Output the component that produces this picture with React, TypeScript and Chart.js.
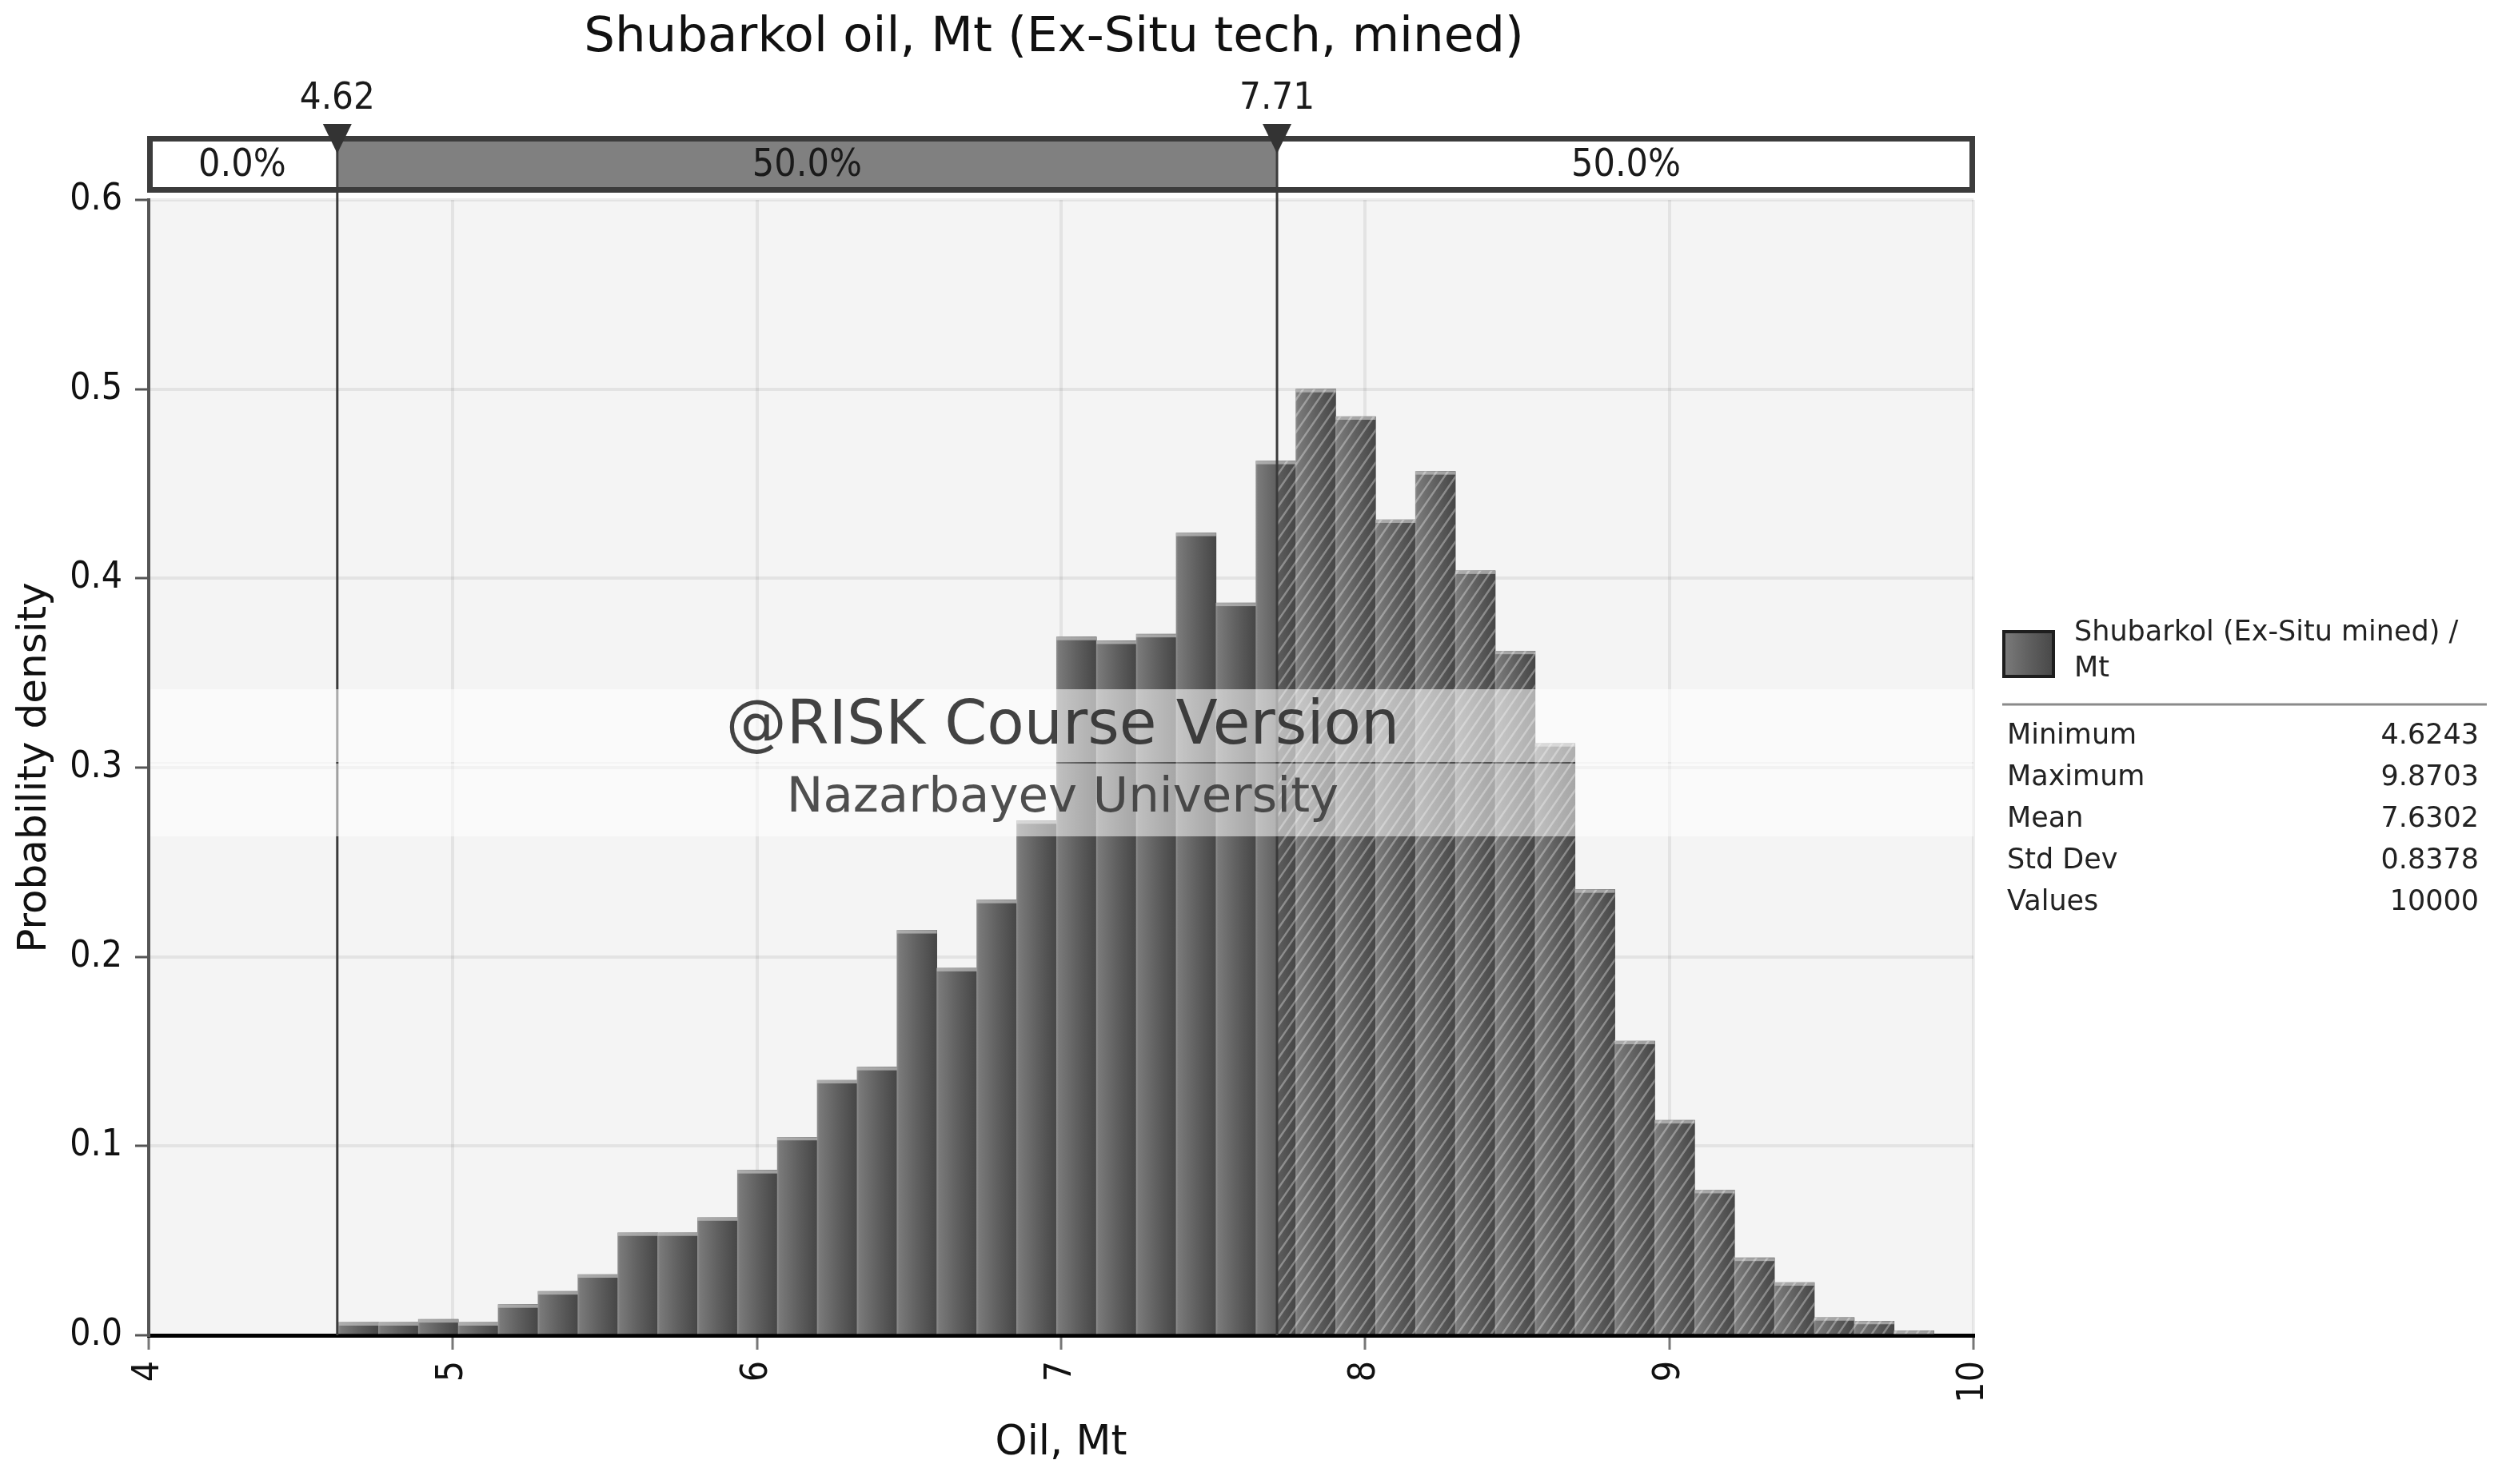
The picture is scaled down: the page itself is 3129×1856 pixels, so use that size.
import React, { useEffect, useRef } from 'react';
import { Chart, registerables } from 'chart.js';

Chart.register(...registerables);

const FONT = '"DejaVu Sans Condensed", "DejaVu Sans", sans-serif';
const FONT_REG = '"DejaVu Sans", Verdana, sans-serif';

const titleText = 'Shubarkol oil, Mt (Ex-Situ tech, mined)';
const xAxisTitle = 'Oil, Mt';
const yAxisTitle = 'Probability density';

// histogram: 40 equal bins between the simulated minimum and maximum
const binMin = 4.6243;
const binMax = 9.8703;
const density = [
  0.0068, 0.0068, 0.0084, 0.0068, 0.0162, 0.0232, 0.0321, 0.0542, 0.0542, 0.0622,
  0.0872, 0.1047, 0.1348, 0.1417, 0.214, 0.194, 0.23, 0.272, 0.369, 0.367,
  0.3705, 0.424, 0.387, 0.462, 0.5, 0.4855, 0.431, 0.4565, 0.404, 0.3616,
  0.3128, 0.2355, 0.1555, 0.1136, 0.0767, 0.0409, 0.0279, 0.0094, 0.0075, 0.0024,
];

const xMin = 4;
const xMax = 10;
const yMin = 0;
const yMax = 0.6;

const delimiterValues = [4.62, 7.71];
const delimiterLabels = ['4.62', '7.71'];
const regionLabels = ['0.0%', '50.0%', '50.0%'];

const legendLines = ['Shubarkol (Ex-Situ mined) /', 'Mt'];
const statNames = ['Minimum', 'Maximum', 'Mean', 'Std Dev', 'Values'];
const statValues = ['4.6243', '9.8703', '7.6302', '0.8378', '10000'];

const watermarkLines = ['@RISK Course Version', 'Nazarbayev University'];

const binCount = density.length;
const binWidth = (binMax - binMin) / binCount;

function barGradient(ctx: CanvasRenderingContext2D, l: number, r: number) {
  const g = ctx.createLinearGradient(l, 0, r, 0);
  g.addColorStop(0, '#8e8e8e');
  g.addColorStop(0.05, '#7a7a7a');
  g.addColorStop(0.5, '#606060');
  g.addColorStop(1, '#464646');
  return g;
}

const decorPlugin = {
  id: 'decor',
  beforeDraw(chart: any) {
    const { ctx, chartArea: a } = chart;
    ctx.save();
    ctx.fillStyle = '#ffffff';
    ctx.fillRect(0, 0, chart.width, chart.height);
    ctx.fillStyle = '#f4f4f4';
    ctx.fillRect(a.left, a.top, a.right - a.left, a.bottom - a.top);
    ctx.restore();
  },
  afterDatasetsDraw(chart: any) {
    const { ctx, chartArea: a } = chart;
    const xs = chart.scales.x;
    const meta = chart.getDatasetMeta(0);
    const p = xs.getPixelForValue(delimiterValues[1]);
    ctx.save();
    meta.data.forEach((el: any) => {
      const { x, y, width } = el.getProps(['x', 'y', 'width'], true);
      ctx.fillStyle = 'rgba(195,195,195,0.7)';
      ctx.fillRect(x - width / 2, y, width, 4);
    });
    ctx.beginPath();
    meta.data.forEach((el: any) => {
      const { x, y, width, base } = el.getProps(['x', 'y', 'width', 'base'], true);
      const l = Math.max(x - width / 2, p);
      const r = x + width / 2;
      if (r > l) ctx.rect(l, y, r - l, base - y);
    });
    ctx.clip();
    ctx.strokeStyle = 'rgba(255,255,255,0.33)';
    ctx.lineWidth = 2.5;
    const H = a.bottom - a.top;
    const slope = 1.45;
    ctx.beginPath();
    for (let k = p - H / slope; k < a.right + 20; k += 14) {
      ctx.moveTo(k, a.bottom);
      ctx.lineTo(k + H / slope, a.top);
    }
    ctx.stroke();
    ctx.restore();
  },
  afterDraw(chart: any) {
    const { ctx, chartArea: a } = chart;
    const xs = chart.scales.x;
    const barTop = 170;
    const barBot = 241;
    const left = xs.getPixelForValue(xMin) - 2;
    const right = xs.getPixelForValue(xMax) + 2;
    const dp = delimiterValues.map((v) => xs.getPixelForValue(v));

    ctx.save();
    // delimiter lines
    ctx.strokeStyle = '#3a3a3a';
    ctx.lineWidth = 3;
    dp.forEach((px) => {
      ctx.beginPath();
      ctx.moveTo(px, barTop);
      ctx.lineTo(px, a.bottom);
      ctx.stroke();
    });

    // watermark band
    ctx.fillStyle = 'rgba(255,255,255,0.57)';
    ctx.fillRect(a.left + 2, 862, a.right - a.left - 2, 91);
    ctx.fillStyle = 'rgba(255,255,255,0.52)';
    ctx.fillRect(a.left + 2, 955, a.right - a.left - 2, 91);
    ctx.textAlign = 'center';
    ctx.textBaseline = 'middle';
    ctx.fillStyle = 'rgba(45,45,45,0.9)';
    ctx.font = `76px ${FONT_REG}`;
    ctx.fillText(watermarkLines[0], 1329, 910);
    ctx.fillStyle = 'rgba(60,60,60,0.9)';
    ctx.font = `61px ${FONT_REG}`;
    ctx.fillText(watermarkLines[1], 1329, 999);

    // top delimiter bar
    ctx.fillStyle = '#ffffff';
    ctx.fillRect(left, barTop, right - left, barBot - barTop);
    ctx.fillStyle = '#808080';
    ctx.fillRect(dp[0], barTop, dp[1] - dp[0], barBot - barTop);
    ctx.strokeStyle = '#3c3c3c';
    ctx.lineWidth = 7;
    ctx.strokeRect(left + 3.5, barTop + 3.5, right - left - 7, barBot - barTop - 7);
    ctx.lineWidth = 3;
    dp.forEach((px) => {
      ctx.beginPath();
      ctx.moveTo(px, barTop);
      ctx.lineTo(px, barBot);
      ctx.stroke();
    });
    const bounds = [left, dp[0], dp[1], right];
    ctx.fillStyle = '#1a1a1a';
    ctx.font = `48px ${FONT}`;
    regionLabels.forEach((t, i) => {
      ctx.fillText(t, (bounds[i] + bounds[i + 1]) / 2, (barTop + barBot) / 2 + 2);
    });
    // triangles and labels
    dp.forEach((px, i) => {
      ctx.fillStyle = '#333333';
      ctx.beginPath();
      ctx.moveTo(px - 18, 155);
      ctx.lineTo(px + 18, 155);
      ctx.lineTo(px, 192);
      ctx.closePath();
      ctx.fill();
      ctx.fillStyle = '#1a1a1a';
      ctx.font = `47px ${FONT}`;
      ctx.fillText(delimiterLabels[i], px, 124);
    });

    // title
    ctx.font = `61px ${FONT_REG}`;
    ctx.fillStyle = '#111111';
    ctx.fillText(titleText, 1318, 48);

    // legend
    const sx = 2504, sy = 788, sw = 66, sh = 60;
    ctx.fillStyle = barGradient(ctx, sx, sx + sw);
    ctx.fillRect(sx, sy, sw, sh);
    ctx.strokeStyle = '#1e1e1e';
    ctx.lineWidth = 4;
    ctx.strokeRect(sx + 2, sy + 2, sw - 4, sh - 4);
    ctx.textAlign = 'left';
    ctx.fillStyle = '#222222';
    ctx.font = `35px ${FONT_REG}`;
    ctx.fillText(legendLines[0], 2594, 792);
    ctx.fillText(legendLines[1], 2594, 837);
    ctx.strokeStyle = '#8a8a8a';
    ctx.lineWidth = 3;
    ctx.beginPath();
    ctx.moveTo(2504, 881);
    ctx.lineTo(3110, 881);
    ctx.stroke();
    statNames.forEach((n, i) => {
      const y = 921 + i * 52;
      ctx.textAlign = 'left';
      ctx.fillText(n, 2510, y);
      ctx.textAlign = 'right';
      ctx.fillText(statValues[i], 3100, y);
    });
    ctx.restore();
  },
};

export default function App() {
  const ref = useRef<HTMLCanvasElement | null>(null);

  useEffect(() => {
    document.body.style.margin = '0';
    const canvas = ref.current;
    if (!canvas) return;
    const points = density.map((y, i) => ({ x: binMin + (i + 0.5) * binWidth, y }));
    const chart = new Chart(canvas, {
      type: 'bar',
      data: {
        datasets: [
          {
            label: legendLines.join(' '),
            data: points as any,
            barPercentage: 1,
            categoryPercentage: 1,
            borderWidth: 0,
            backgroundColor: (c: any) => {
              if (c.type !== 'data') return '#5e5e5e';
              const ch = c.chart;
              const xs = ch.scales && ch.scales.x;
              if (!xs || !ch.chartArea) return '#5e5e5e';
              const cx = binMin + (c.dataIndex + 0.5) * binWidth;
              const l = xs.getPixelForValue(cx - binWidth / 2);
              const r = xs.getPixelForValue(cx + binWidth / 2);
              return barGradient(ch.ctx, l, r);
            },
          } as any,
        ],
      },
      options: {
        animation: false,
        responsive: true,
        maintainAspectRatio: false,
        layout: { padding: { top: 250, right: 661, left: 0, bottom: 0 } },
        plugins: {
          legend: { display: false },
          tooltip: { enabled: false },
          title: { display: false },
        },
        scales: {
          x: {
            type: 'linear',
            min: xMin,
            max: xMax,
            offset: false,
            z: 1,
            afterFit: (s: any) => {
              s.height = 186;
            },
            ticks: {
              stepSize: 1,
              minRotation: 90,
              maxRotation: 90,
              padding: 14,
              color: '#111111',
              font: { family: FONT, size: 46 },
            },
            grid: {
              offset: false,
              color: 'rgba(0,0,0,0.065)',
              lineWidth: 4,
              tickColor: '#777777',
              tickLength: 18,
              tickWidth: 3,
            },
            border: { color: '#000000', width: 5 },
            title: {
              display: true,
              text: xAxisTitle,
              color: '#111111',
              font: { family: FONT_REG, size: 51 },
              padding: { top: 0, bottom: 20 },
            },
          } as any,
          y: {
            min: yMin,
            max: yMax,
            z: 1,
            afterFit: (s: any) => {
              s.width = 186;
            },
            ticks: {
              stepSize: 0.1,
              padding: 16,
              color: '#111111',
              font: { family: FONT, size: 46 },
              callback: (v: any) => Number(v).toFixed(1),
            },
            grid: {
              color: 'rgba(0,0,0,0.065)',
              lineWidth: 4,
              tickColor: '#555555',
              tickLength: 17,
              tickWidth: 3,
            },
            border: { color: '#555555', width: 4 },
            title: {
              display: true,
              text: yAxisTitle,
              color: '#111111',
              font: { family: FONT_REG, size: 50 },
              padding: { top: 14, bottom: 0 },
            },
          } as any,
        },
      },
      plugins: [decorPlugin as any],
    });
    return () => chart.destroy();
  }, []);

  return (
    <div style={{ width: 3129, height: 1856, position: 'relative' }}>
      <canvas ref={ref} />
    </div>
  );
}
